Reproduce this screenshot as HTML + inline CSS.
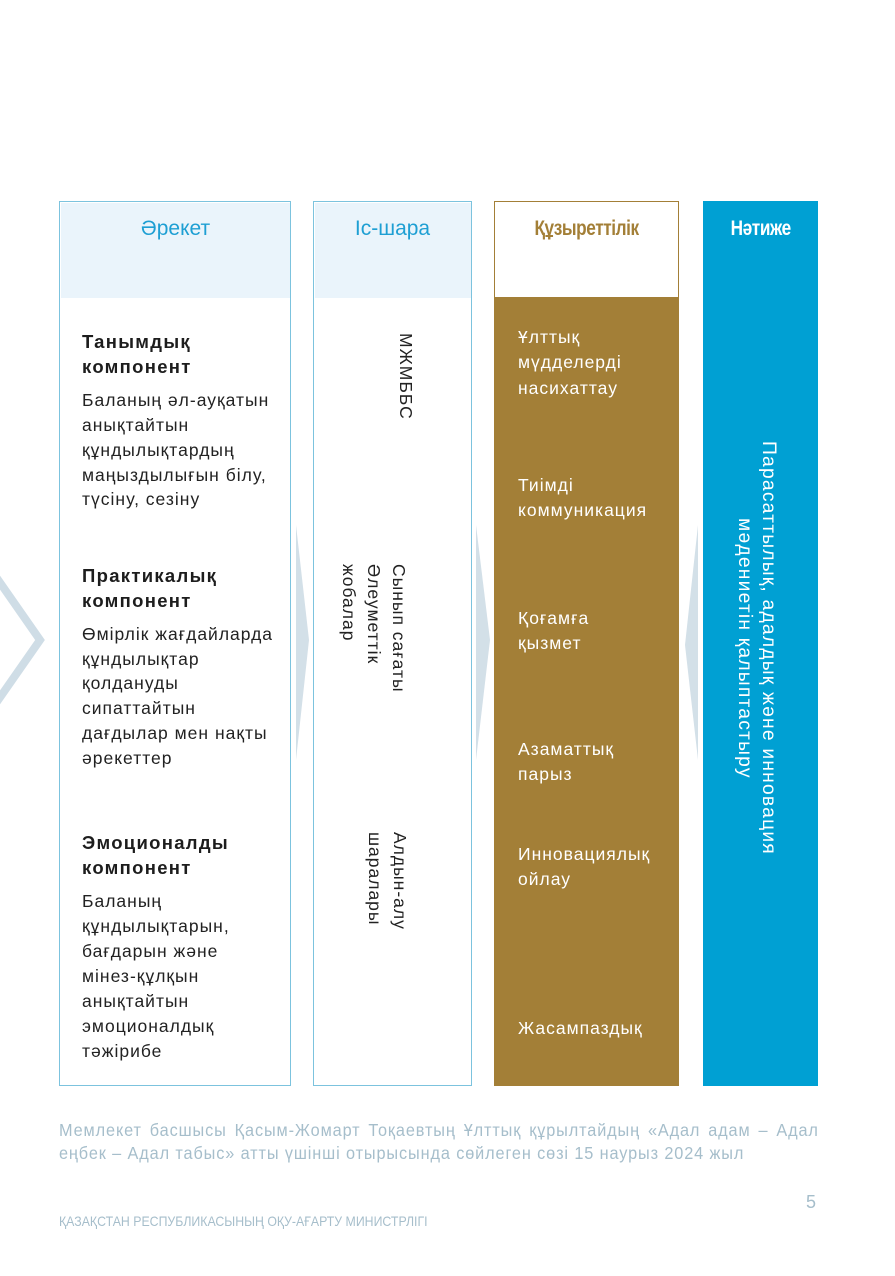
<!DOCTYPE html>
<html><head><meta charset="utf-8"><style>
body{margin:0;width:895px;height:1276px;position:relative;background:#fff;font-family:"Liberation Sans","DejaVu Sans",sans-serif;overflow:hidden}
.a{position:absolute}
.t{position:absolute;font-size:17.5px;letter-spacing:1px;color:#222;white-space:nowrap;line-height:20px}
.b{font-weight:bold;font-size:18.5px;letter-spacing:1.3px;color:#1d1d1d}
.g{color:#fff;left:518px}
.v{position:absolute;writing-mode:vertical-rl;font-size:17.5px;letter-spacing:1px;line-height:25px;color:#222;white-space:nowrap}
.h{position:absolute;top:216px;text-align:center;font-size:21px;line-height:26px}
.hc{display:inline-block;font-weight:bold;transform:scaleX(0.82);letter-spacing:-0.5px}
</style></head><body>
<svg class="a" style="left:0;top:0" width="895" height="1276">
<polyline points="-6,574 40,640 -6,706" fill="none" stroke="#CFDDE6" stroke-width="8"/>
<polygon points="296,525 309,640 296,760" fill="#D3E0E8"/>
<polygon points="476,525 490,640 476,760" fill="#D3E0E8"/>
<polygon points="698,525 685,645 698,760" fill="#D3E0E8"/>
</svg>
<!-- col1 -->
<div class="a" style="left:59px;top:201px;width:230px;height:883px;border:1.5px solid #7CC3DE;"></div>
<div class="a" style="left:60.5px;top:202.5px;width:229px;height:95px;background:#EAF4FB"></div>
<div class="h" style="left:60px;width:231px;color:#1E9FD3">Әрекет</div>
<!-- col2 -->
<div class="a" style="left:313px;top:201px;width:157px;height:883px;border:1.5px solid #7CC3DE;"></div>
<div class="a" style="left:314.5px;top:202.5px;width:156px;height:95px;background:#EAF4FB"></div>
<div class="h" style="left:313px;width:159px;color:#1E9FD3">Іс-шара</div>
<!-- col3 -->
<div class="a" style="left:494px;top:201px;width:183px;height:96px;border:1px solid #A37F37;border-bottom:none"></div>
<div class="a" style="left:494px;top:297px;width:185px;height:789px;background:#A37F37"></div>
<div class="h" style="left:494px;width:185px;color:#A37F37"><span class="hc">Құзыреттілік</span></div>
<!-- col4 -->
<div class="a" style="left:703px;top:201px;width:115px;height:885px;background:#00A0D3"></div>
<div class="h" style="left:703px;width:115px;color:#fff"><span class="hc">Нәтиже</span></div>

<div class="t b" style="left:82px;top:332px">Танымдық</div>
<div class="t b" style="left:82px;top:357px">компонент</div>
<div class="t" style="left:82px;top:390px">Баланың әл-ауқатын</div>
<div class="t" style="left:82px;top:415px">анықтайтын</div>
<div class="t" style="left:82px;top:440px">құндылықтардың</div>
<div class="t" style="left:82px;top:465px">маңыздылығын білу,</div>
<div class="t" style="left:82px;top:489px">түсіну, сезіну</div>

<div class="t b" style="left:82px;top:566px">Практикалық</div>
<div class="t b" style="left:82px;top:591px">компонент</div>
<div class="t" style="left:82px;top:624px">Өмірлік жағдайларда</div>
<div class="t" style="left:82px;top:649px">құндылықтар</div>
<div class="t" style="left:82px;top:673px">қолдануды</div>
<div class="t" style="left:82px;top:698px">сипаттайтын</div>
<div class="t" style="left:82px;top:723px">дағдылар мен нақты</div>
<div class="t" style="left:82px;top:748px">әрекеттер</div>

<div class="t b" style="left:82px;top:833px">Эмоционалды</div>
<div class="t b" style="left:82px;top:858px">компонент</div>
<div class="t" style="left:82px;top:891px">Баланың</div>
<div class="t" style="left:82px;top:916px">құндылықтарын,</div>
<div class="t" style="left:82px;top:941px">бағдарын және</div>
<div class="t" style="left:82px;top:966px">мінез-құлқын</div>
<div class="t" style="left:82px;top:991px">анықтайтын</div>
<div class="t" style="left:82px;top:1016px">эмоционалдық</div>
<div class="t" style="left:82px;top:1041px">тәжірибе</div>

<div class="v" style="left:393px;top:333px">МЖМББС</div>
<div class="v" style="left:336px;top:564px">Сынып сағаты<br>Әлеуметтік<br>жобалар</div>
<div class="v" style="left:362px;top:832px">Алдын-алу<br>шаралары</div>

<div class="t g" style="top:327px">Ұлттық</div>
<div class="t g" style="top:352px">мүдделерді</div>
<div class="t g" style="top:378px">насихаттау</div>
<div class="t g" style="top:475px">Тиімді</div>
<div class="t g" style="top:500px">коммуникация</div>
<div class="t g" style="top:608px">Қоғамға</div>
<div class="t g" style="top:633px">қызмет</div>
<div class="t g" style="top:739px">Азаматтық</div>
<div class="t g" style="top:764px">парыз</div>
<div class="t g" style="top:844px">Инновациялық</div>
<div class="t g" style="top:869px">ойлау</div>
<div class="t g" style="top:1018px">Жасампаздық</div>

<div class="v" style="left:728px;top:437px;width:52px;height:422px;color:#fff;text-align:center;line-height:24px;font-size:19.3px;letter-spacing:1.2px">Парасаттылық, адалдық және инновация<br>мәдениетін қалыптастыру</div>

<div class="a" style="left:59px;top:1119px;width:817px;font-size:17.5px;letter-spacing:0.95px;line-height:23px;color:#A6BECB;transform:scaleX(0.93);transform-origin:left;white-space:nowrap">
<div style="text-align:justify;text-align-last:justify">Мемлекет басшысы Қасым-Жомарт Тоқаевтың Ұлттық құрылтайдың «Адал адам – Адал</div>
<div>еңбек – Адал табыс» атты үшінші отырысында сөйлеген сөзі 15 наурыз 2024 жыл</div>
</div>
<div class="a" style="left:806px;top:1192px;font-size:18px;color:#A6BECB">5</div>
<div class="a" style="left:59px;top:1213px;font-size:14px;color:#A6BECB;transform:scaleX(0.88);transform-origin:left;white-space:nowrap">ҚАЗАҚСТАН РЕСПУБЛИКАСЫНЫҢ ОҚУ-АҒАРТУ МИНИСТРЛІГІ</div>
</body></html>
